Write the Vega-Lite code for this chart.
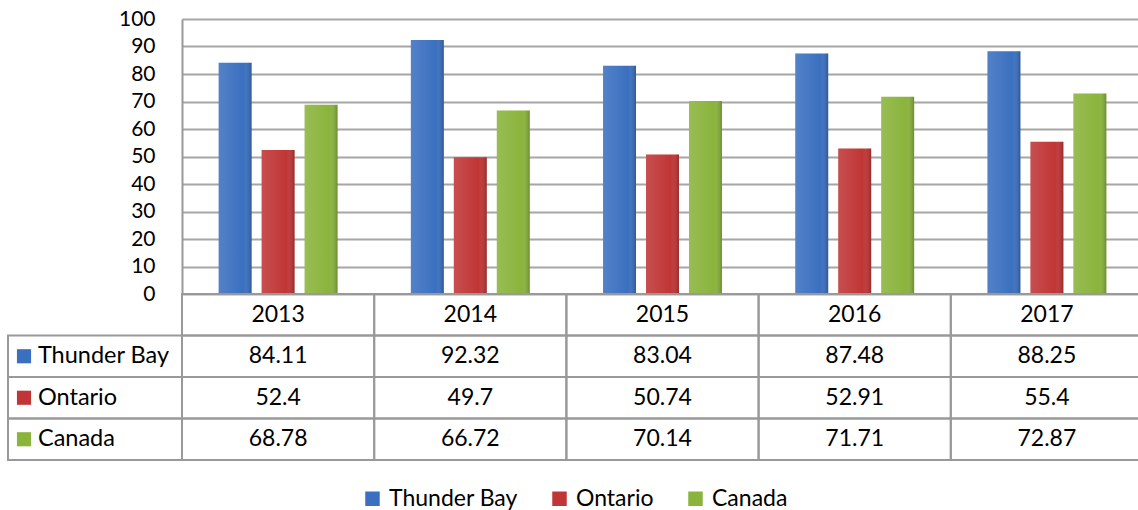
{
  "$schema": "https://vega.github.io/schema/vega-lite/v6.json",
  "padding": {"left": 7, "top": 8, "right": 0, "bottom": 0},
  "background": "white",
  "config": {"font": "Lato", "view": {"stroke": null}, "text": {"color": "black"}},
  "datasets": {
    "d": [
      {"year": "2013", "series": "Thunder Bay", "value": 84.11},
      {"year": "2014", "series": "Thunder Bay", "value": 92.32},
      {"year": "2015", "series": "Thunder Bay", "value": 83.04},
      {"year": "2016", "series": "Thunder Bay", "value": 87.48},
      {"year": "2017", "series": "Thunder Bay", "value": 88.25},
      {"year": "2013", "series": "Ontario", "value": 52.4},
      {"year": "2014", "series": "Ontario", "value": 49.7},
      {"year": "2015", "series": "Ontario", "value": 50.74},
      {"year": "2016", "series": "Ontario", "value": 52.91},
      {"year": "2017", "series": "Ontario", "value": 55.4},
      {"year": "2013", "series": "Canada", "value": 68.78},
      {"year": "2014", "series": "Canada", "value": 66.72},
      {"year": "2015", "series": "Canada", "value": 70.14},
      {"year": "2016", "series": "Canada", "value": 71.71},
      {"year": "2017", "series": "Canada", "value": 72.87}
    ]
  },
  "columns": 2,
  "spacing": 0,
  "bounds": "flush",
  "concat": [
    {
      "width": 174, "height": 275,
      "data": {"values": [{}]},
      "mark": {"type": "point", "opacity": 0},
      "encoding": {}
    },
    {
      "width": 961, "height": 275,
      "data": {"name": "d"},
      "encoding": {
        "x": {"field": "year", "type": "nominal", "scale": {"paddingInner": 0, "paddingOuter": 0}, "axis": null},
        "xOffset": {"field": "series", "type": "nominal", "scale": {"domain": ["Thunder Bay", "Ontario", "Canada"], "paddingInner": 0.233, "paddingOuter": 0.853}},
        "y": {
          "field": "value", "type": "quantitative",
          "scale": {"domain": [0, 100], "nice": false},
          "axis": {
            "values": [0, 10, 20, 30, 40, 50, 60, 70, 80, 90, 100],
            "title": null, "ticks": false,
            "domainColor": "#999999", "domainWidth": 2,
            "gridColor": "#a6a6a6", "gridWidth": 2,
            "labelFontSize": 21, "labelPadding": 27, "labelColor": "black", "labelFont": "Lato"
          }
        }
      },
      "layer": [
        {
          "mark": {"type": "bar"},
          "encoding": {
            "color": {
              "field": "series", "type": "nominal",
              "scale": {"domain": ["Thunder Bay", "Ontario", "Canada"], "range": ["#3b70c0", "#c03636", "#8ab43c"]},
              "legend": {
                "orient": "none", "legendX": 353, "legendY": 468,
                "direction": "horizontal", "title": null,
                "symbolType": "square", "symbolSize": 210, "symbolStrokeWidth": 0,
                "labelFontSize": 23, "labelFont": "Lato", "labelColor": "black",
                "columnPadding": 30, "labelOffset": 5, "padding": 0
              }
            }
          }
        },
        {
          "mark": {
            "type": "bar",
            "fill": {
              "x1": 0, "y1": 0, "x2": 1, "y2": 0,
              "gradient": "linear",
              "stops": [
                {"offset": 0, "color": "rgba(255,255,255,0.12)"},
                {"offset": 0.75, "color": "rgba(255,255,255,0)"},
                {"offset": 1, "color": "rgba(0,0,0,0.22)"}
              ]
            }
          }
        }
      ]
    },
    {
      "width": 174, "height": 166,
      "data": {"name": "d"},
      "transform": [{"filter": "datum.year == '2013'"}],
      "encoding": {
        "y": {"field": "series", "type": "nominal", "scale": {"domain": ["hdr", "Thunder Bay", "Ontario", "Canada"], "paddingInner": 0, "paddingOuter": 0}, "axis": null}
      },
      "layer": [
        {"mark": {"type": "rect", "filled": false, "stroke": "#999999", "strokeWidth": 2}},
        {
          "mark": {"type": "square", "size": 200, "filled": true, "opacity": 1},
          "encoding": {
            "x": {"datum": 0.092, "type": "quantitative", "scale": {"domain": [0, 1]}, "axis": null},
            "color": {"field": "series", "type": "nominal", "legend": null}
          }
        },
        {
          "mark": {"type": "text", "align": "left", "baseline": "middle", "fontSize": 23.5},
          "encoding": {
            "x": {"datum": 0.172, "type": "quantitative"},
            "text": {"field": "series", "type": "nominal"}
          }
        }
      ]
    },
    {
      "width": 961, "height": 166,
      "data": {"name": "d"},
      "encoding": {
        "x": {"field": "year", "type": "nominal", "scale": {"paddingInner": 0, "paddingOuter": 0}, "axis": null}
      },
      "layer": [
        {
          "mark": {"type": "rect", "filled": false, "stroke": "#999999", "strokeWidth": 2},
          "encoding": {"y": {"field": "series", "type": "nominal", "scale": {"domain": ["hdr", "Thunder Bay", "Ontario", "Canada"], "paddingInner": 0, "paddingOuter": 0}, "axis": null}}
        },
        {
          "transform": [{"filter": "datum.series == 'Thunder Bay'"}],
          "mark": {"type": "rect", "filled": false, "stroke": "#999999", "strokeWidth": 2},
          "encoding": {"y": {"datum": "hdr", "type": "nominal"}}
        },
        {
          "mark": {"type": "text", "baseline": "middle", "fontSize": 23},
          "encoding": {
            "y": {"field": "series", "type": "nominal"},
            "text": {"field": "value", "type": "nominal"}
          }
        },
        {
          "transform": [{"filter": "datum.series == 'Thunder Bay'"}],
          "mark": {"type": "text", "baseline": "middle", "fontSize": 23},
          "encoding": {
            "y": {"datum": "hdr", "type": "nominal"},
            "text": {"field": "year", "type": "nominal"}
          }
        }
      ]
    }
  ]
}
